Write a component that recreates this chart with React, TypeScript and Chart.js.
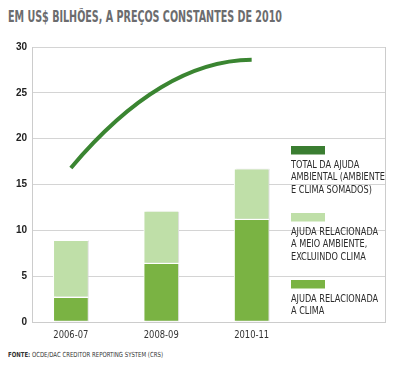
import React, { useEffect, useRef } from 'react';
import { Chart, registerables } from 'chart.js';

Chart.register(...registerables);

// ---- data ----
const categories = ['2006-07', '2008-09', '2010-11'];
const climateAid = [2.7, 6.4, 11.2];
const environmentAid = [6.2, 5.7, 5.5]; // meio ambiente, excluindo clima
const totalAid = [16.8, 25.6, 28.6]; // total da ajuda ambiental
const yTicks = [0, 5, 10, 15, 20, 25, 30];
const legendLines = [
  ['TOTAL DA AJUDA', 'AMBIENTAL (AMBIENTE', 'E CLIMA SOMADOS)'],
  ['AJUDA RELACIONADA', 'A MEIO AMBIENTE,', 'EXCLUINDO CLIMA'],
  ['AJUDA RELACIONADA', 'A CLIMA'],
];
const titleText = 'EM US$ BILHÕES, A PREÇOS CONSTANTES DE 2010';
const sourceLabel = 'FONTE:';
const sourceText = ' OCDE/DAC CREDITOR REPORTING SYSTEM (CRS)';

// ---- styles ----
const NARROW = "'Liberation Sans Narrow', 'DejaVu Sans Condensed', 'Arial Narrow', sans-serif";
const C_TOTAL = '#3a8531';
const C_TOTAL_BOX = '#3a7d31';
const C_ENV = '#bfdfa8';
const C_CLIMATE = '#7ab343';
const GRID = '#d4d4d4';

const barShadow = {
  id: 'barShadow',
  beforeDatasetDraw(chart: any, args: any) {
    if (args.meta.type !== 'bar') return;
    const ctx = chart.ctx;
    ctx.save();
    ctx.shadowColor = 'rgba(0,0,0,0.12)';
    ctx.shadowOffsetX = 2;
    ctx.shadowOffsetY = 0;
    ctx.shadowBlur = 0;
  },
  afterDatasetDraw(chart: any, args: any) {
    if (args.meta.type !== 'bar') return;
    chart.ctx.restore();
  },
};

// Smooth arc through the data points: cubic segments whose tangents follow
// the local parabola through neighbouring points (in pixel space).
const smoothArc = {
  id: 'smoothArc',
  beforeDatasetDraw(chart: any, args: any) {
    const meta = args.meta;
    if (meta.type !== 'line') return;
    const line = meta.dataset;
    line.updateControlPoints(chart.chartArea, meta.iScale.axis);
    const pts = meta.data;
    const n = pts.length;
    if (n < 3) return;
    const slope = (i: number) => {
      const j = Math.min(Math.max(i - 1, 0), n - 3);
      const [a, b, c] = [pts[j], pts[j + 1], pts[j + 2]];
      const d0 = (b.y - a.y) / (b.x - a.x);
      const d1 = (c.y - b.y) / (c.x - b.x);
      const k = (d1 - d0) / (c.x - a.x);
      const x = pts[i].x;
      return d0 + k * (2 * x - a.x - b.x);
    };
    for (let i = 0; i < n; i++) {
      const p = pts[i];
      const m = slope(i);
      const hp = i > 0 ? (p.x - pts[i - 1].x) / 3 : 0;
      const hn = i < n - 1 ? (pts[i + 1].x - p.x) / 3 : 0;
      p.cp1x = p.x - hp;
      p.cp1y = p.y - m * hp;
      p.cp2x = p.x + hn;
      p.cp2y = p.y + m * hn;
    }
    line._path = undefined;
  },
};

const overlay = {
  id: 'overlay',
  afterDraw(chart: any) {
    const { ctx, chartArea } = chart;
    ctx.save();
    // right frame line
    ctx.strokeStyle = '#cccccc';
    ctx.lineWidth = 1;
    const x = Math.round(chartArea.right) + 0.5;
    ctx.beginPath();
    ctx.moveTo(x, Math.round(chartArea.top));
    ctx.lineTo(x, Math.round(chartArea.bottom) + 1);
    ctx.stroke();

    // category labels (condensed)
    const xs = chart.scales.x;
    ctx.font = `10.5px ${NARROW}`;
    ctx.fillStyle = '#333333';
    ctx.textAlign = 'center';
    ctx.textBaseline = 'alphabetic';
    const kx = 35 / ctx.measureText(categories[0]).width;
    categories.forEach((c, i) => {
      ctx.save();
      ctx.translate(xs.getPixelForValue(i), chartArea.bottom + 15.5);
      ctx.scale(kx, 1);
      ctx.fillText(c, 0, 0);
      ctx.restore();
    });

    // legend
    const colors = [C_TOTAL_BOX, C_ENV, C_CLIMATE];
    const lx = 283;
    let y = 110;
    ctx.font = `10.3px ${NARROW}`;
    ctx.textAlign = 'left';
    const kl = 94 / ctx.measureText(legendLines[0][1]).width;
    legendLines.forEach((lines, k) => {
      ctx.fillStyle = colors[k];
      ctx.fillRect(lx, y, 34, 8.5);
      ctx.fillStyle = '#2b2b2b';
      lines.forEach((t, j) => {
        ctx.save();
        ctx.translate(lx, y + 22 + j * 12.3);
        ctx.scale(kl, 1);
        ctx.fillText(t, 0, 0);
        ctx.restore();
      });
      y += 67;
    });
    ctx.restore();
  },
};

export default function App() {
  const ref = useRef<HTMLCanvasElement>(null);
  const titleRef = useRef<HTMLDivElement>(null);
  const sourceRef = useRef<HTMLDivElement>(null);

  useEffect(() => {
    const fit = (el: HTMLDivElement | null, target: number) => {
      if (!el) return;
      el.style.transform = 'none';
      const w = el.getBoundingClientRect().width;
      if (w > 0) el.style.transform = `scaleX(${target / w})`;
    };
    fit(titleRef.current, 274);
    fit(sourceRef.current, 155);

    const canvas = ref.current;
    if (!canvas) return;
    const chart = new Chart(canvas, {
      type: 'bar',
      data: {
        datasets: [
          {
            type: 'line',
            label: 'Total da ajuda ambiental',
            data: categories.map((_, i) => ({ x: i, y: totalAid[i] })),
            borderColor: C_TOTAL,
            borderWidth: 4,
            pointRadius: 0,
            tension: 0.4,
            stack: 'total',
            borderCapStyle: 'butt',
            order: 0,
          } as any,
          {
            type: 'bar',
            label: 'Ajuda relacionada a clima',
            data: categories.map((_, i) => ({ x: i, y: climateAid[i] })),
            backgroundColor: C_CLIMATE,
            borderColor: '#ffffff',
            borderWidth: 1,
            borderSkipped: false,
            barThickness: 35,
            stack: 'aid',
            order: 1,
          } as any,
          {
            type: 'bar',
            label: 'Ajuda relacionada a meio ambiente, excluindo clima',
            data: categories.map((_, i) => ({ x: i, y: environmentAid[i] })),
            backgroundColor: C_ENV,
            borderColor: '#ffffff',
            borderWidth: 1,
            borderSkipped: false,
            barThickness: 35,
            stack: 'aid',
            order: 1,
          } as any,
        ],
      },
      options: {
        animation: false,
        responsive: false,
        layout: { padding: { left: 0, right: 7, top: 8, bottom: 0 } },
        plugins: {
          legend: { display: false },
          tooltip: { enabled: false },
          title: { display: false },
        },
        scales: {
          x: {
            type: 'linear',
            offset: false,
            min: -0.43,
            max: 3.475,
            grid: { display: false, drawTicks: false },
            border: { display: true, color: '#cccccc' },
            afterBuildTicks: (s: any) => {
              s.ticks = categories.map((_, i) => ({ value: i }));
            },
            afterFit: (s: any) => {
              s.height = 26;
            },
            ticks: { display: false },
          },
          y: {
            stacked: true,
            min: 0,
            max: 30,
            grid: { color: GRID, lineWidth: 1, drawTicks: false },
            border: { display: true, color: '#cccccc' },
            afterBuildTicks: (s: any) => {
              s.ticks = yTicks.map((v) => ({ value: v }));
            },
            afterFit: (s: any) => {
              s.width = 24;
            },
            ticks: {
              padding: 5,
              color: '#222222',
              font: { family: "'Liberation Sans', Arial, sans-serif", size: 10, weight: 'bold' },
            },
          },
        },
      } as any,
      plugins: [barShadow, smoothArc, overlay],
    });
    return () => chart.destroy();
  }, []);

  return (
    <div style={{ position: 'relative', width: 384, height: 352 }}>
      <div
        ref={titleRef}
        style={{
          position: 'absolute',
          left: 0,
          top: 2,
          fontFamily: NARROW,
          fontWeight: 'bold',
          fontSize: 15,
          lineHeight: '15px',
          color: '#6b6c6e',
          whiteSpace: 'nowrap',
          transformOrigin: 'left top',
        }}
      >
        {titleText}
      </div>
      <div style={{ position: 'absolute', left: 0, top: 28, width: 384, height: 312 }}>
        <canvas ref={ref} width={384} height={312} style={{ display: 'block' }} />
      </div>
      <div
        ref={sourceRef}
        style={{
          position: 'absolute',
          left: 0,
          top: 344,
          fontFamily: NARROW,
          fontSize: 7,
          lineHeight: '7px',
          color: '#333333',
          whiteSpace: 'nowrap',
          transformOrigin: 'left top',
        }}
      >
        <span style={{ fontWeight: 'bold' }}>{sourceLabel}</span>
        {sourceText}
      </div>
    </div>
  );
}
